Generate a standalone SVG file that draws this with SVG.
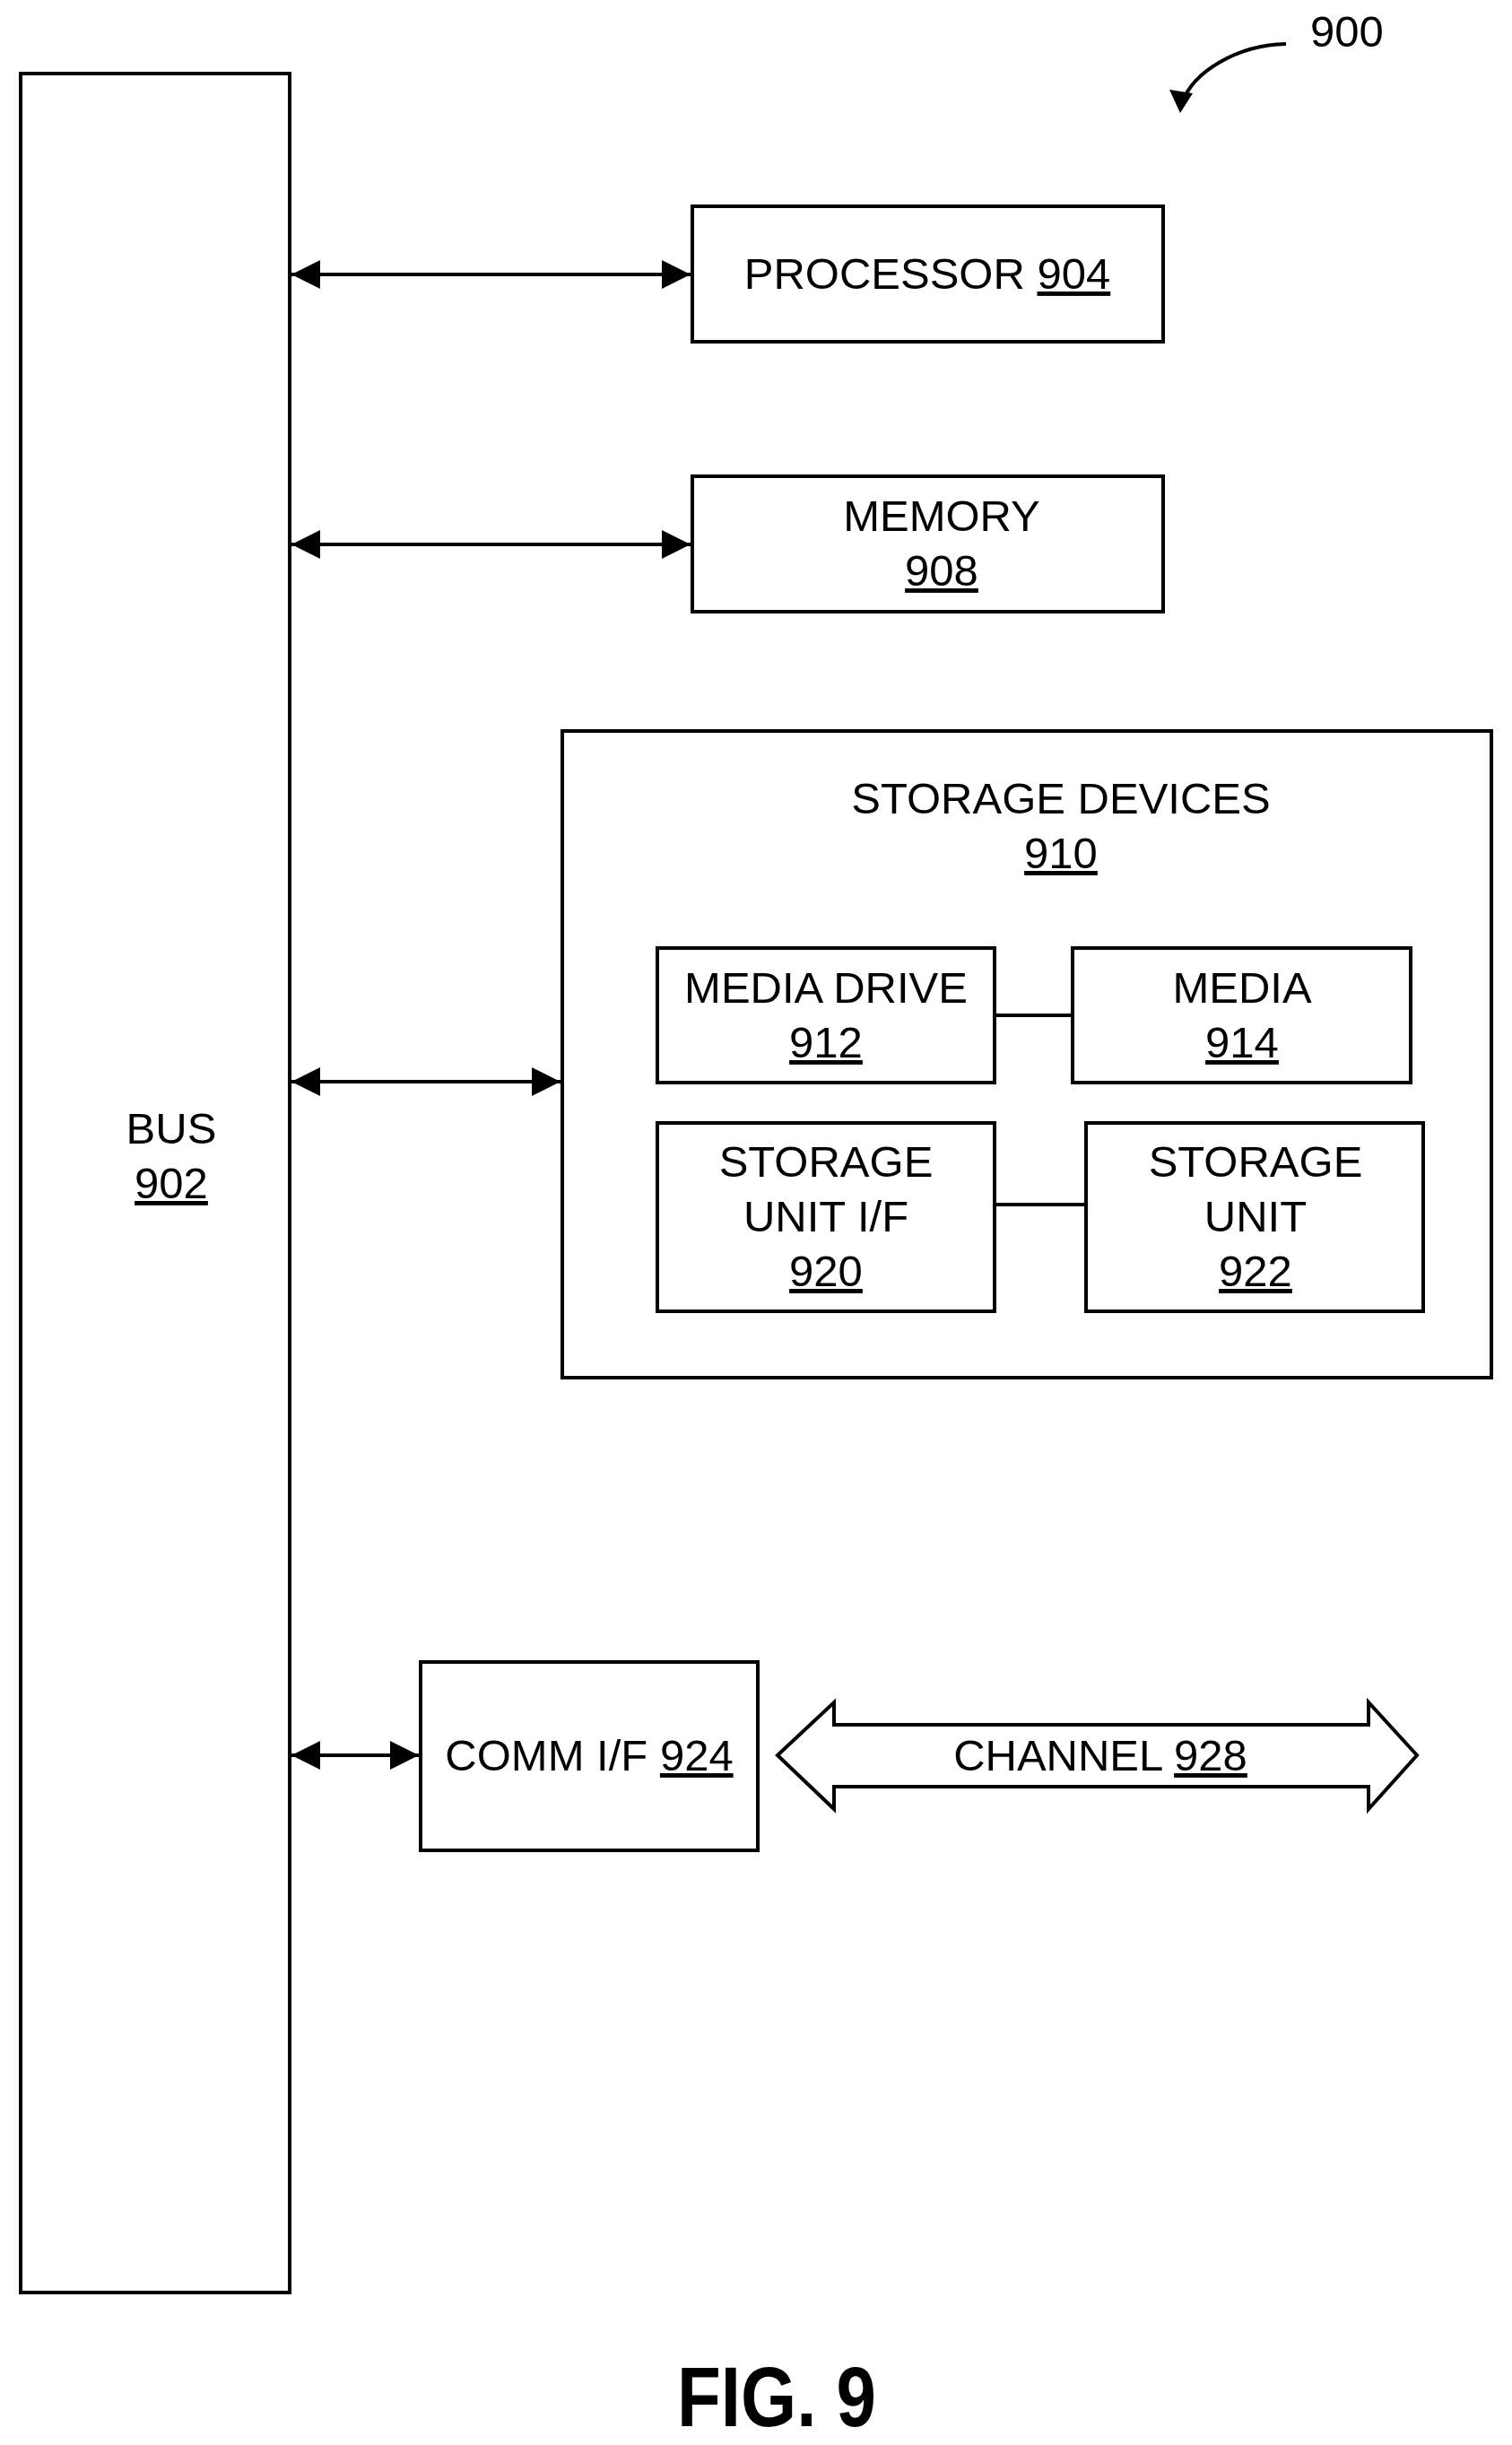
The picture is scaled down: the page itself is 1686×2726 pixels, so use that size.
<svg xmlns="http://www.w3.org/2000/svg" width="1686" height="2726" viewBox="0 0 1686 2726">
<style>
.b{fill:#fff;stroke:#000;stroke-width:4}
.t{font-family:"Liberation Sans",Arial,sans-serif;font-size:49px;text-anchor:middle;fill:#000}
.u{text-decoration:underline}
.c{stroke:#000;stroke-width:4;fill:none}
</style>
<defs>
<marker id="a" viewBox="0 0 10 10" refX="10" refY="5" markerWidth="42" markerHeight="32" markerUnits="userSpaceOnUse" orient="auto-start-reverse"><path d="M0,0 L10,5 L0,10 z" fill="#000"/></marker>
</defs>
<rect width="1686" height="2726" fill="#fff"/>
<g id="n900">
<text class="t" x="1502" y="52">900</text>
<path class="c" d="M1434,49 C1380,50 1330,80 1318,115"/>
<path d="M1304,100 L1316,126 L1330,104 z" fill="#000"/>
</g>
<g id="bus"><rect class="b" x="23" y="82" width="300" height="2474"/>
<text class="t" x="191" y="1275">BUS</text><text class="t u" x="191" y="1336">902</text></g>
<g id="processor"><rect class="b" x="772" y="230" width="525" height="151"/>
<text class="t" x="1034" y="322">PROCESSOR <tspan class="u">904</tspan></text></g>
<g id="memory"><rect class="b" x="772" y="531" width="525" height="151"/>
<text class="t" x="1050" y="592">MEMORY</text><text class="t u" x="1050" y="653">908</text></g>
<g id="storage"><rect class="b" x="627" y="815" width="1036" height="721"/>
<text class="t" x="1183" y="907">STORAGE DEVICES</text><text class="t u" x="1183" y="968">910</text></g>
<g id="mediadrive"><rect class="b" x="733" y="1057" width="376" height="150"/>
<text class="t" x="921" y="1118">MEDIA DRIVE</text><text class="t u" x="921" y="1179">912</text></g>
<g id="media"><rect class="b" x="1196" y="1057" width="377" height="150"/>
<text class="t" x="1385" y="1118">MEDIA</text><text class="t u" x="1385" y="1179">914</text></g>
<g id="suif"><rect class="b" x="733" y="1252" width="376" height="210"/>
<text class="t" x="921" y="1312">STORAGE</text><text class="t" x="921" y="1373">UNIT I/F</text><text class="t u" x="921" y="1434">920</text></g>
<g id="su"><rect class="b" x="1211" y="1252" width="376" height="210"/>
<text class="t" x="1400" y="1312">STORAGE</text><text class="t" x="1400" y="1373">UNIT</text><text class="t u" x="1400" y="1434">922</text></g>
<g id="comm"><rect class="b" x="469" y="1853" width="376" height="210"/>
<text class="t" x="657" y="1974">COMM I/F <tspan class="u">924</tspan></text></g>
<g id="channel"><path class="b" d="M867,1957 L930,1898 L930,1923 L1526,1923 L1526,1898 L1580,1957 L1526,2017 L1526,1992 L930,1992 L930,2017 z"/>
<text class="t" x="1227" y="1974">CHANNEL <tspan class="u">928</tspan></text></g>
<g id="connectors">
<line class="c" x1="325" y1="306" x2="770" y2="306" marker-start="url(#a)" marker-end="url(#a)"/>
<line class="c" x1="325" y1="607" x2="770" y2="607" marker-start="url(#a)" marker-end="url(#a)"/>
<line class="c" x1="325" y1="1206" x2="625" y2="1206" marker-start="url(#a)" marker-end="url(#a)"/>
<line class="c" x1="325" y1="1957" x2="467" y2="1957" marker-start="url(#a)" marker-end="url(#a)"/>
<line class="c" x1="1109" y1="1132" x2="1196" y2="1132"/>
<line class="c" x1="1109" y1="1343" x2="1211" y2="1343"/>
</g>
<text x="866" y="2705" font-family="Liberation Sans,Arial,sans-serif" font-weight="bold" font-size="94" text-anchor="middle" transform="translate(866 0) scale(0.85 1) translate(-866 0)">FIG. 9</text>
</svg>
